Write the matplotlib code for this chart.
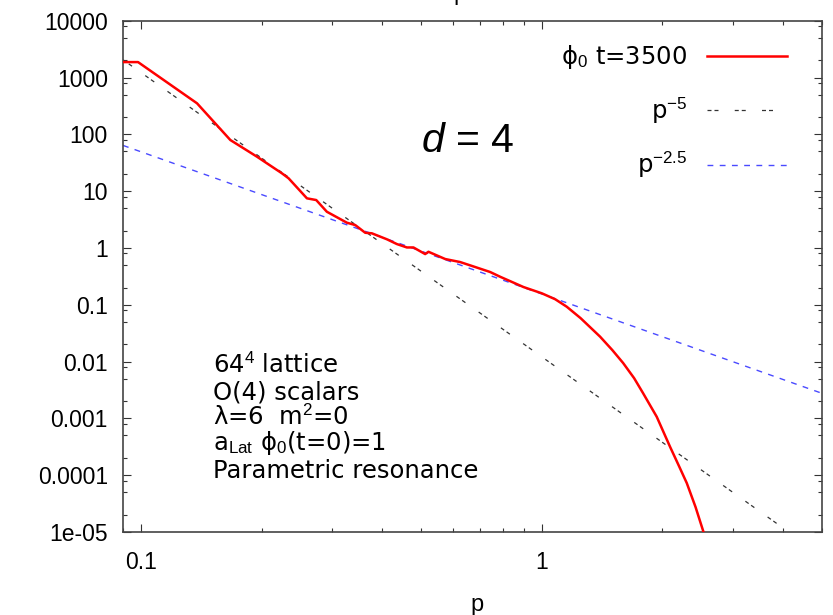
import numpy as np
import matplotlib
matplotlib.use("Agg")
import matplotlib.pyplot as plt
from matplotlib.ticker import LogLocator, FixedLocator, FixedFormatter, NullFormatter

plt.rcParams['font.family'] = ['Liberation Sans', 'DejaVu Sans']
plt.rcParams['mathtext.fontset'] = 'custom'
plt.rcParams['mathtext.rm'] = 'Liberation Sans'
plt.rcParams['mathtext.it'] = 'Liberation Sans:italic'
plt.rcParams['mathtext.bf'] = 'Liberation Sans:bold'

# spectrum at t=3500
p_vals = [0.0902, 0.0981, 0.1377, 0.1668, 0.1944, 0.2244, 0.2332, 0.2591, 0.2733,
          0.2905, 0.3261, 0.342, 0.3623, 0.3763, 0.4104, 0.4346, 0.4603, 0.478,
          0.5113, 0.521, 0.5738, 0.625, 0.682, 0.743, 0.787, 0.9, 1.0, 1.08, 1.154,
          1.25, 1.398, 1.5, 1.596, 1.7, 1.789, 1.936, 2.09, 2.2, 2.301, 2.42,
          2.532, 2.6]
phi_vals = [1870, 1870, 352, 79.4, 40.4, 20.6, 16.8, 7.47, 6.97,
            4.34, 2.78, 2.53, 1.85, 1.81, 1.42, 1.17, 1.02, 1.02,
            0.78, 0.857, 0.638, 0.565, 0.461, 0.377, 0.311, 0.205, 0.159, 0.125, 0.0923,
            0.058, 0.0274, 0.0159, 0.00942, 0.0051, 0.00279, 0.001067, 3.16e-4, 1.45e-4, 7.26e-5, 2.75e-5,
            1.01e-5, 5e-6]

# power-law guide lines, end points
fit_p = [0.09, 5.0]
pow5_vals = [2050, 3.87e-6]
pow25_vals = [63.8, 0.00277]

xtick_vals = [0.1, 1]
xtick_labels = ['0.1', '1']
ytick_vals = [1e4, 1e3, 1e2, 1e1, 1, 1e-1, 1e-2, 1e-3, 1e-4, 1e-5]
ytick_labels = ['10000', '1000', '100', '10', '1', '0.1', '0.01', '0.001', '0.0001', '1e-05']

fs = 17.5          # annotation / legend text
wide = ['DejaVu Sans']

fig = plt.figure(figsize=(8.33, 6.15), dpi=100)
ax = fig.add_axes([0.1477, 0.1350, 0.8388, 0.8313])

ax.plot(p_vals, phi_vals, color='#ff0000', lw=1.8, label='ϕ$_0$ t=3500', zorder=3)
ax.plot(fit_p, pow5_vals, color='#333333', lw=0.9, dashes=(3.2, 2.4, 3.2, 13),
        label=r'p$^{-5}$', zorder=2)
ax.plot(fit_p, pow25_vals, color='#4a4aff', lw=1.0, dashes=(4.2, 4.6),
        label=r'p$^{-2.5}$', zorder=2)

ax.set_xscale('log')
ax.set_yscale('log')
ax.set_xlim(0.09, 5.0)
ax.set_ylim(1e-5, 1e4)

ax.xaxis.set_major_locator(FixedLocator(xtick_vals))
ax.xaxis.set_major_formatter(FixedFormatter(xtick_labels))
ax.xaxis.set_minor_locator(LogLocator(base=10, subs=(2, 3, 4, 5, 6, 7, 8, 9), numticks=20))
ax.xaxis.set_minor_formatter(NullFormatter())
ax.yaxis.set_major_locator(FixedLocator(ytick_vals))
ax.yaxis.set_major_formatter(FixedFormatter(ytick_labels))
ax.yaxis.set_minor_locator(LogLocator(base=10, subs=(2, 5, 8), numticks=20))
ax.yaxis.set_minor_formatter(NullFormatter())

ax.tick_params(which='both', direction='in', top=True, right=True, width=0.8, color='#333333')
ax.tick_params(which='major', length=6, labelsize=16.5)
ax.tick_params(which='minor', length=3)
ax.tick_params(axis='x', pad=14)
ax.tick_params(axis='y', pad=11)
for s in ax.spines.values():
    s.set_color('#444444')
    s.set_linewidth(1.2)

ax.set_xlabel('p', fontsize=17, labelpad=14, x=0.507)
fig.text(0.552, 1.0, 'p', fontsize=17, ha='center', va='baseline')

ax.text(0.493, 0.765, r'$d$ = 4', fontsize=29.5, ha='center', va='center', transform=ax.transAxes)

notes = [r'64$^{4}$ lattice', 'O(4) scalars', r'λ=6  m$^{2}$=0',
         r'a$_{\mathrm{Lat}}$ ϕ$_0$(t=0)=1', 'Parametric resonance']
note_y = [0.3104, 0.2582, 0.2093, 0.1604, 0.105]
for txt, yy in zip(notes, note_y):
    ax.text(0.1284, yy, txt, fontsize=fs, family=wide, ha='left', va='baseline',
            transform=ax.transAxes)

leg = ax.legend(loc='upper right', bbox_to_anchor=(0.9503, 0.956), markerfirst=False,
                frameon=False, prop={'family': wide, 'size': fs}, handlelength=3.3,
                handletextpad=0.8, labelspacing=1.0, borderaxespad=0, borderpad=0)

fig.savefig('out.png', dpi=100)
